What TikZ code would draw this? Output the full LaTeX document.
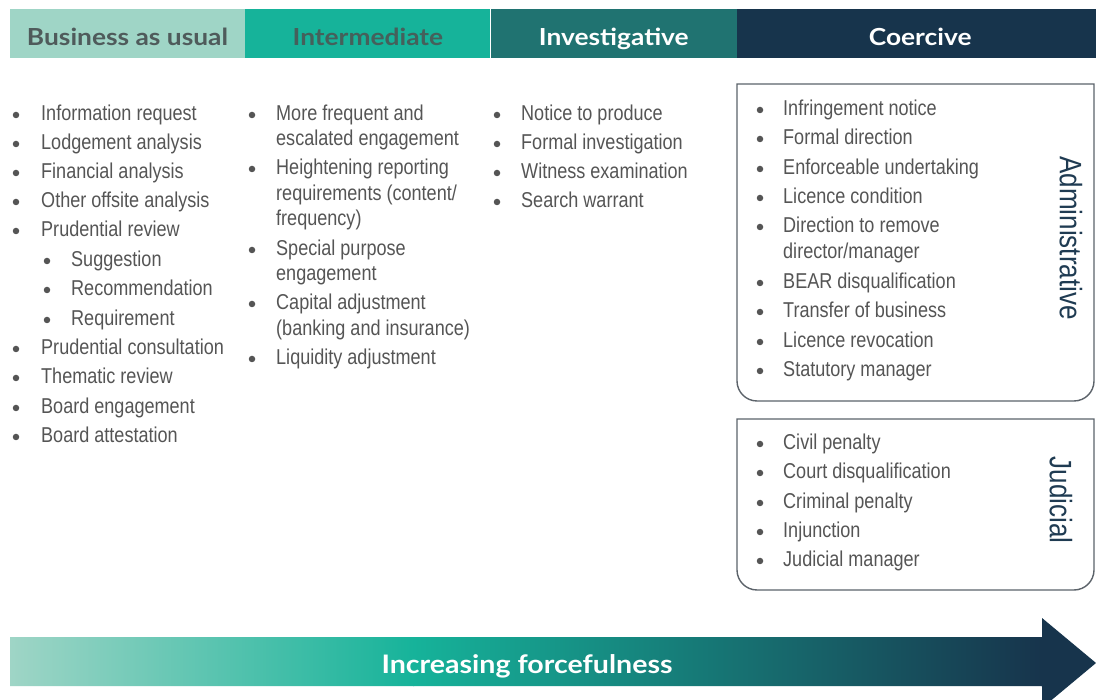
\documentclass[tikz,border=0pt]{standalone}
\usepackage{fontspec}
\setmainfont{Liberation Sans}[FakeStretch=0.84]
\newfontfamily\headfont{Lato}[FakeStretch=1.12]
\usepackage{xcolor}
\usepackage{tikz}
\usetikzlibrary{positioning}

\definecolor{bauteal}{HTML}{9FD5C6}
\definecolor{midteal}{HTML}{16B39A}
\definecolor{invteal}{HTML}{207371}
\definecolor{coernavy}{HTML}{17344C}
\definecolor{txtgray}{HTML}{555555}
\definecolor{headgray}{HTML}{4F5B5B}
\definecolor{intgray}{HTML}{45605B}
\definecolor{boxline}{HTML}{5C636A}
\definecolor{sidenavy}{HTML}{1F3B52}

\newcommand\itemfont{\fontsize{21.5}{25}\selectfont}
\newcommand\bandfont{\headfont\bfseries\fontsize{23.5}{26}\selectfont}

\begin{document}
\begin{tikzpicture}[x=1pt, y=-1pt,
    band/.style={rectangle, inner sep=0pt, minimum height=49pt},
    bandlbl/.style={anchor=base, inner sep=0pt, font=\bandfont},
    item/.style={anchor=base west, inner sep=0pt, font=\itemfont, text=txtgray},
    dot/.style={circle, fill=txtgray, inner sep=0pt, minimum size=6.5pt},
    panel/.style={draw=boxline, line width=1.4pt},
    side/.style={inner sep=0pt, rotate=-90, text=sidenavy, font=\fontsize{31}{31}\selectfont}
]
    \useasboundingbox (0,0) rectangle (1096,700);
    \fill[white] (0,0) rectangle (1096,700);

    % header bands
    \node[band, fill=bauteal, minimum width=235pt] (bau) at (127.5,33.5) {};
    \node[band, fill=midteal, minimum width=245pt, right=0pt of bau] (inter) {};
    \node[band, fill=invteal, minimum width=246pt, right=0pt of inter] (invest) {};
    \node[band, fill=coernavy, minimum width=360pt, right=0pt of invest] (coer) {};
    \node[bandlbl, text=headgray] (baulbl) at ([yshift=-12pt]bau.center) {Business as usual};
    \node[bandlbl, text=intgray] (interlbl) at ([yshift=-12pt]inter.center) {Intermediate};
    \node[bandlbl, text=white] (investlbl) at ([yshift=-12pt]invest.center) {Investigative};
    \node[bandlbl, text=white] (coerlbl) at ([xshift=3pt, yshift=-12pt]coer.center) {Coercive};

    % business as usual
    \foreach \t/\y [count=\i] in {Information request/113, Lodgement analysis/142, Financial analysis/171,
        Other offsite analysis/200, Prudential review/229, Prudential consultation/347,
        Thematic review/376, Board engagement/406, Board attestation/435} {
        \node[dot] (baud\i) at (16,\y+2) {};
        \node[item] (baut\i) at (41,\y+7.5) {\t};
    }
    \foreach \t/\y [count=\i] in {Suggestion/259, Recommendation/288, Requirement/318} {
        \node[dot] (subd\i) at (47,\y+2) {};
        \node[item] (subt\i) at (71,\y+7.5) {\t};
    }

    % intermediate
    \foreach \y [count=\i] in {113,167,248,302,357}
        \node[dot] (intd\i) at (252,\y+2) {};
    \foreach \t/\y [count=\i] in {{More frequent and}/113, {escalated engagement}/138,
        {Heightening reporting}/167, {requirements (content/}/193, {frequency)}/218,
        {Special purpose}/248, {engagement}/273, {Capital adjustment}/302,
        {(banking and insurance)}/328, {Liquidity adjustment}/357}
        \node[item] (intt\i) at (276,\y+7.5) {\t};

    % investigative
    \foreach \t/\y [count=\i] in {Notice to produce/113, Formal investigation/142,
        Witness examination/171, Search warrant/200} {
        \node[dot] (invd\i) at (497,\y+2) {};
        \node[item] (invt\i) at (521,\y+7.5) {\t};
    }

    % coercive panels
    \draw[panel] (737,84) -- (1094,84) -- (1094,381)
        .. controls (1094,392) and (1085,401) .. (1074,401) -- (757,401)
        .. controls (746,401) and (737,392) .. (737,381) -- cycle;
    \draw[panel] (737,419) -- (1094,419) -- (1094,570)
        .. controls (1094,581) and (1085,590) .. (1074,590) -- (757,590)
        .. controls (746,590) and (737,581) .. (737,570) -- cycle;

    \foreach \y [count=\i] in {108,137,167,196,225,281,310,340,369}
        \node[dot] (admd\i) at (760,\y+2) {};
    \foreach \t/\y [count=\i] in {{Infringement notice}/108, {Formal direction}/137,
        {Enforceable undertaking}/167, {Licence condition}/196, {Direction to remove}/225,
        {director/manager}/251, {BEAR disqualification}/281, {Transfer of business}/310,
        {Licence revocation}/340, {Statutory manager}/369}
        \node[item] (admt\i) at (783,\y+7.5) {\t};
    \node[side] (admin) at (1071,238) {Administrative};

    \foreach \t/\y [count=\i] in {Civil penalty/442, Court disqualification/471,
        Criminal penalty/501, Injunction/530, Judicial manager/559} {
        \node[dot] (judd\i) at (760,\y+2) {};
        \node[item] (judt\i) at (783,\y+7.5) {\t};
    }
    \node[side] (judic) at (1061,500) {Judicial};

    % forcefulness arrow
    \begin{scope}
        \clip (10,637) -- (1042,637) -- (1042,618) -- (1096,663) -- (1042,708)
            -- (1042,686) -- (10,686) -- cycle;
        \shade[left color=bauteal, right color=midteal] (10,610) rectangle (414,710);
        \shade[left color=midteal, right color=coernavy] (413,610) rectangle (1042,710);
        \fill[coernavy] (1041,610) rectangle (1096,710);
    \end{scope}
    \node[font=\headfont\bfseries\fontsize{25.5}{28}\selectfont, text=white, inner sep=0pt,
        anchor=base] (force) at (527,673) {Increasing forcefulness};
\end{tikzpicture}
\end{document}
